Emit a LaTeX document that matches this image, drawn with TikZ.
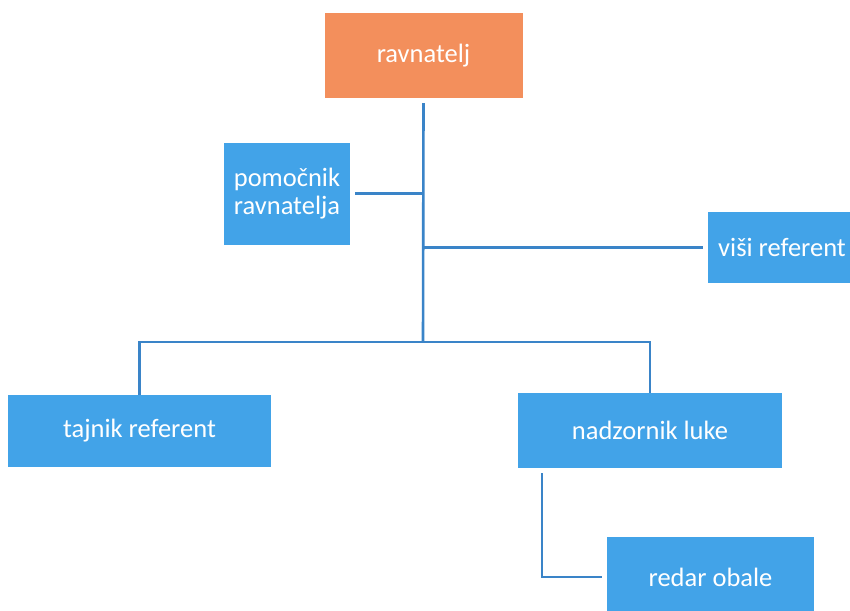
\documentclass[tikz,border=0pt]{standalone}
\usepackage{fontspec}
\setmainfont{Carlito}
\usepackage{xcolor}
\usepackage{tikz}
\usetikzlibrary{calc}

\definecolor{rootorange}{RGB}{243,143,92}
\definecolor{unitblue}{RGB}{66,163,232}
\definecolor{lineblue}{RGB}{58,132,200}

\tikzset{
	unit/.style={fill=unitblue, text=white, font=\fontsize{26.5}{28}\selectfont, align=center, inner sep=0pt},
	link/.style={draw=lineblue, line width=2.6pt}
}

\begin{document}
\begin{tikzpicture}[x=1pt, y=-1pt]
	\clip (0,0) rectangle (850,610);
	\fill[white] (0,0) rectangle (850,610);

	\node[unit, fill=rootorange, minimum width=198pt, minimum height=85pt] (rav) at (423.5,55.5) {ravnatelj};
	\node[unit, minimum width=126pt, minimum height=102pt] (pomoc) at (287,193.5) {pomočnik\\ravnatelja};
	\node[unit, minimum width=148pt, minimum height=71pt] (visi) at (782,247.5) {viši referent};
	\node[unit, minimum width=263pt, minimum height=72pt] (tajnik) at (139.5,431) {tajnik referent};
	\node[unit, minimum width=264pt, minimum height=75pt] (nadzor) at (650,430.5) {nadzornik luke};
	\node[unit, minimum width=207pt, minimum height=80pt] (redar) at (710.5,577) {redar obale};

	\coordinate (hub) at (423,342);

	\draw[link] ([yshift=-5pt]rav.south) -- (hub);
	\draw[link] ([xshift=5pt]pomoc.east) -- (pomoc.east -| hub);
	\draw[link] (visi.west -| hub) -- ([xshift=-5pt]visi.west);
	\draw[link] (tajnik.north) -- (tajnik.north |- hub) -- (nadzor.north |- hub) -- (nadzor.north);
	\draw[link] ($(nadzor.south west)+(24,5)$) |- ([xshift=-5pt]redar.west);
\end{tikzpicture}
\end{document}
